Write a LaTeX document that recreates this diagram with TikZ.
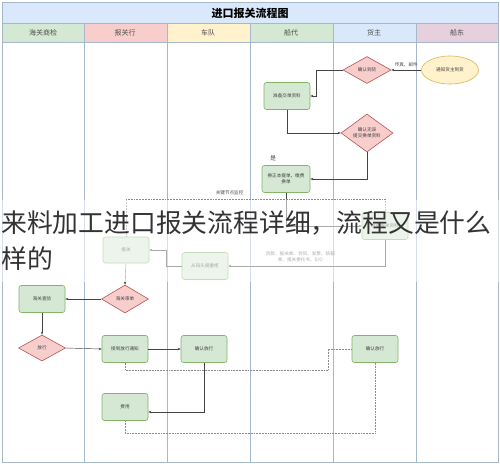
\documentclass[tikz,border=0pt]{standalone}
\usepackage{fontspec}
\setmainfont{Noto Sans CJK SC}
\usetikzlibrary{shapes.geometric,arrows.meta,calc}
\definecolor{lanec}{HTML}{A7B8CA}
\definecolor{titlec}{HTML}{DAE8FC}
\definecolor{gfill}{HTML}{D5E8D4}
\definecolor{gdraw}{HTML}{82B366}
\definecolor{rfill}{HTML}{F8CECC}
\definecolor{rdraw}{HTML}{B85450}
\definecolor{yfill}{HTML}{FFF2CC}
\definecolor{ydraw}{HTML}{D6B656}
\definecolor{pfill}{HTML}{E6D0DE}
\definecolor{linec}{HTML}{444444}
\definecolor{dotc}{HTML}{8A8A8A}
\begin{document}
\begin{tikzpicture}[x=1pt,y=-1pt,
  tiny/.style={font=\fontsize{4.6}{5.6}\selectfont, text=black!75},
  box/.style={tiny, rectangle, rounded corners=2.5pt, draw=gdraw, fill=gfill, line width=0.6pt,
    minimum width=46pt, minimum height=27pt, align=center, inner sep=1pt},
  dia/.style={tiny, diamond, draw=rdraw, fill=rfill, line width=0.6pt,
    minimum width=48pt, minimum height=27pt, align=center, inner sep=0pt},
  ell/.style={tiny, ellipse, draw=ydraw, fill=yfill, line width=0.6pt,
    minimum width=57pt, minimum height=28pt, align=center, inner sep=0pt},
  arr/.style={draw=linec, line width=0.45pt, -{Stealth[length=3pt,width=2.4pt]}},
  dotl/.style={draw=dotc, line width=0.55pt, densely dotted},
  hdr/.style={font=\fontsize{7}{8}\selectfont, text=black!70},
  lbl/.style={tiny, text=black!70, align=center}]
\useasboundingbox (0,0) rectangle (500,467);
\fill[white] (0,0) rectangle (500,467);
% title band and header
\fill[titlec] (2,2) rectangle (498,23);
\node[font=\fontsize{11}{13}\selectfont\bfseries] (title) at (250,13) {进口报关流程图};
\fill[gfill] (2,23) rectangle (84,42);
\fill[rfill] (84,23) rectangle (167,42);
\fill[yfill] (167,23) rectangle (250,42);
\fill[gfill] (250,23) rectangle (333,42);
\fill[titlec] (333,23) rectangle (416,42);
\fill[pfill] (416,23) rectangle (498,42);
\node[hdr] (h1) at (43,33) {海关商检};
\node[hdr] (h2) at (125,33) {报关行};
\node[hdr] (h3) at (208,33) {车队};
\node[hdr] (h4) at (291,33) {船代};
\node[hdr] (h5) at (374,33) {货主};
\node[hdr] (h6) at (457,33) {船东};
\draw[lanec, line width=0.7pt] (2,2) rectangle (498,462);
\draw[lanec, line width=0.6pt] (2,23) -- (498,23) (2,42) -- (498,42);
\foreach \xx in {84,167,250,333,416} \draw[lanec, line width=0.6pt] (\xx,23) -- (\xx,462);
% nodes
\node[ell] (e1) at (450,70) {通知货主到货};
\node[dia] (d1) at (367,70) {确认到货};
\node[box] (b1) at (287,96) {准备交单资料};
\node[dia, minimum width=52pt, minimum height=38pt] (d2) at (367,133) {确认无误\\提交换单资料};
\node[box, minimum width=48pt] (b2) at (286,179) {换正本提单，缴费\\换单};
\node[lbl, font=\fontsize{6}{7}\selectfont] (yes) at (273,158) {是};
\node[box] (b3) at (385,226) {准备报关资料};
\node[box] (b4) at (205,266) {从码头提重柜};
\node[box, minimum height=26pt] (b5) at (126,250) {报关};
\node[dia, minimum width=47pt, minimum height=28pt] (d3) at (125,299) {海关审单};
\node[box] (b6) at (42,299) {海关查验};
\node[dia, minimum width=47pt, minimum height=26pt] (d4) at (42,348) {放行};
\node[box] (b7) at (125,349) {接到放行通知};
\node[box] (b8) at (204,349) {确认放行};
\node[box] (b9) at (375,349) {确认放行};
\node[box] (b10) at (125,407) {费用};
\coordinate (c1) at (328,370);
\coordinate (c2) at (125,433);
% connectors
\draw[arr] (e1.west) -- node[lbl, above=-0.5pt] {传真、邮件} (d1.east);
\draw[arr] (d1.west) -- ++(-26,0) |- (b1.east);
\draw[arr] (b1.south) |- (d2.west);
\draw[arr] (d2.south) |- (b2.east);
\draw[arr] (b2.south) |- (b3.west);
\draw[arr] (b3.south) |- node[lbl, pos=0.77, above=0.5pt] {货款、报关单、合同、发票、装箱\\单、报关委托书、D/O} (b4.east);
\draw[arr] (b4.west) -- ++(-15,0) |- (b5.east);
\draw[dotl] (b3.north) -- ++(0,-13) -| node[lbl, pos=0.3, above=1pt] {关键节点监控} (b5.north);
\draw[arr] (b5.south) -- (d3.north);
\draw[arr] (d3.west) -- (b6.east);
\draw[arr] (b6.south) -- (d4.north);
\draw[arr] (d4.east) -- (b7.west);
\draw[arr] (b7.east) -- (b8.west);
\draw[dotl] (b7.south) |- (c1) |- (b9.west);
\draw[arr] (b8.south) |- ([yshift=-5pt]b10.east);
\draw[dotl] (b9.south) |- (c2) -- (b10.south);
% overlay caption
\fill[white, opacity=0.55] (0,200) rectangle (500,282);
\node[anchor=west, inner sep=0pt, font=\fontsize{25.8}{30}\selectfont, text=black!80] (cap1) at (1,223) {来料加工进口报关流程详细，流程又是什么};
\node[anchor=west, inner sep=0pt, font=\fontsize{25.8}{30}\selectfont, text=black!80] (cap2) at (1,259) {样的};
\end{tikzpicture}
\end{document}
